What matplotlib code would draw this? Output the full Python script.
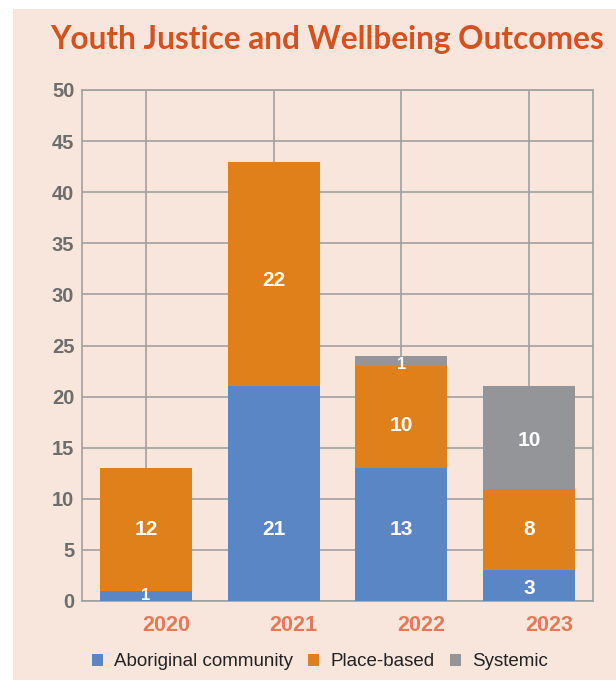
import matplotlib
matplotlib.use("Agg")
import matplotlib.pyplot as plt
from matplotlib.patches import Rectangle
import numpy as np

years = ["2020", "2021", "2022", "2023"]
series = ["Aboriginal community", "Place-based", "Systemic"]
aboriginal = [1, 21, 13, 3]
place_based = [12, 22, 10, 8]
systemic = [0, 0, 1, 10]
yticks = [0, 5, 10, 15, 20, 25, 30, 35, 40, 45, 50]
# data-label anchor heights (data units) as placed in the source chart
aboriginal_label_y = [0.7, 7.2, 7.2, 1.4]
place_label_y = [7.2, 31.6, 17.4, 7.2]
systemic_label_y = [0, 0, 23.3, 15.9]

colors = ["#5b86c5", "#e0801a", "#939598"]
bg = "#f8e6dc"

fig = plt.figure(figsize=(6.16, 6.80), dpi=100, facecolor="white")
fig.patches.append(Rectangle((13/616, 0), 1 - 13/616, (680-9)/680,
                             transform=fig.transFigure, facecolor=bg,
                             edgecolor="none", zorder=-10))

ax = fig.add_axes([82/616, 1 - 601/680, 511/616, 511/680])
ax.set_facecolor(bg)

x = np.arange(len(years))
width = 0.72
bottom = np.zeros(len(years))
data = [aboriginal, place_based, systemic]
label_ys = [aboriginal_label_y, place_label_y, systemic_label_y]
for vals, col, name, ly in zip(data, colors, series, label_ys):
    vals = np.array(vals, dtype=float)
    ax.bar(x, vals, width, bottom=bottom, color=col, label=name, zorder=3)
    for xi, v, yy in zip(x, vals, ly):
        if v > 0:
            fs = 12 if v <= 1 else 15
            ax.text(xi, yy, f"{int(v)}", ha="center", va="center_baseline",
                    color="white", fontsize=fs, fontweight="bold",
                    family="Liberation Sans", zorder=4)
    bottom += vals

ax.set_xlim(-0.5, 3.5)
ax.set_ylim(0, 50)
ax.set_yticks(yticks)
# major ticks: gridlines at bar centres; minor ticks: category labels (offset right as in source)
ax.set_xticks(x)
ax.set_xticklabels([])
ax.set_xticks(x + 0.157, minor=True)
ax.set_xticklabels(years, minor=True)
grid_c = "#a0a0a0"
ax.grid(True, which="major", color=grid_c, linewidth=1.2, zorder=0)
for s in ax.spines.values():
    s.set_color(grid_c)
    s.set_linewidth(1.2)
ax.tick_params(which="both", length=0)
for lab in ax.get_yticklabels():
    lab.set_family("Liberation Sans")
    lab.set_fontweight("bold")
    lab.set_fontsize(14.5)
    lab.set_color("#6d6d6d")
ax.tick_params(axis="y", pad=5.5)
for lab in ax.get_xticklabels(minor=True):
    lab.set_family("Liberation Sans")
    lab.set_fontweight("bold")
    lab.set_fontsize(15.5)
    lab.set_color("#e27a57")
ax.tick_params(axis="x", which="minor", pad=10)

fig.text(327/616, 1 - 40/680, "Youth Justice and Wellbeing Outcomes",
         ha="center", va="center", color="#d4521f", fontsize=22.8,
         fontweight="bold", family="Lato")

leg = fig.legend(loc="center", bbox_to_anchor=(320/616, 1 - 662/680), ncol=3,
                 frameon=False, handlelength=0.6, handleheight=0.6,
                 handletextpad=0.6, columnspacing=0.8,
                 prop={"family": "Liberation Sans", "size": 13.5})
for t in leg.get_texts():
    t.set_color("#222222")

fig.savefig("out.png", dpi=100, facecolor=fig.get_facecolor())
